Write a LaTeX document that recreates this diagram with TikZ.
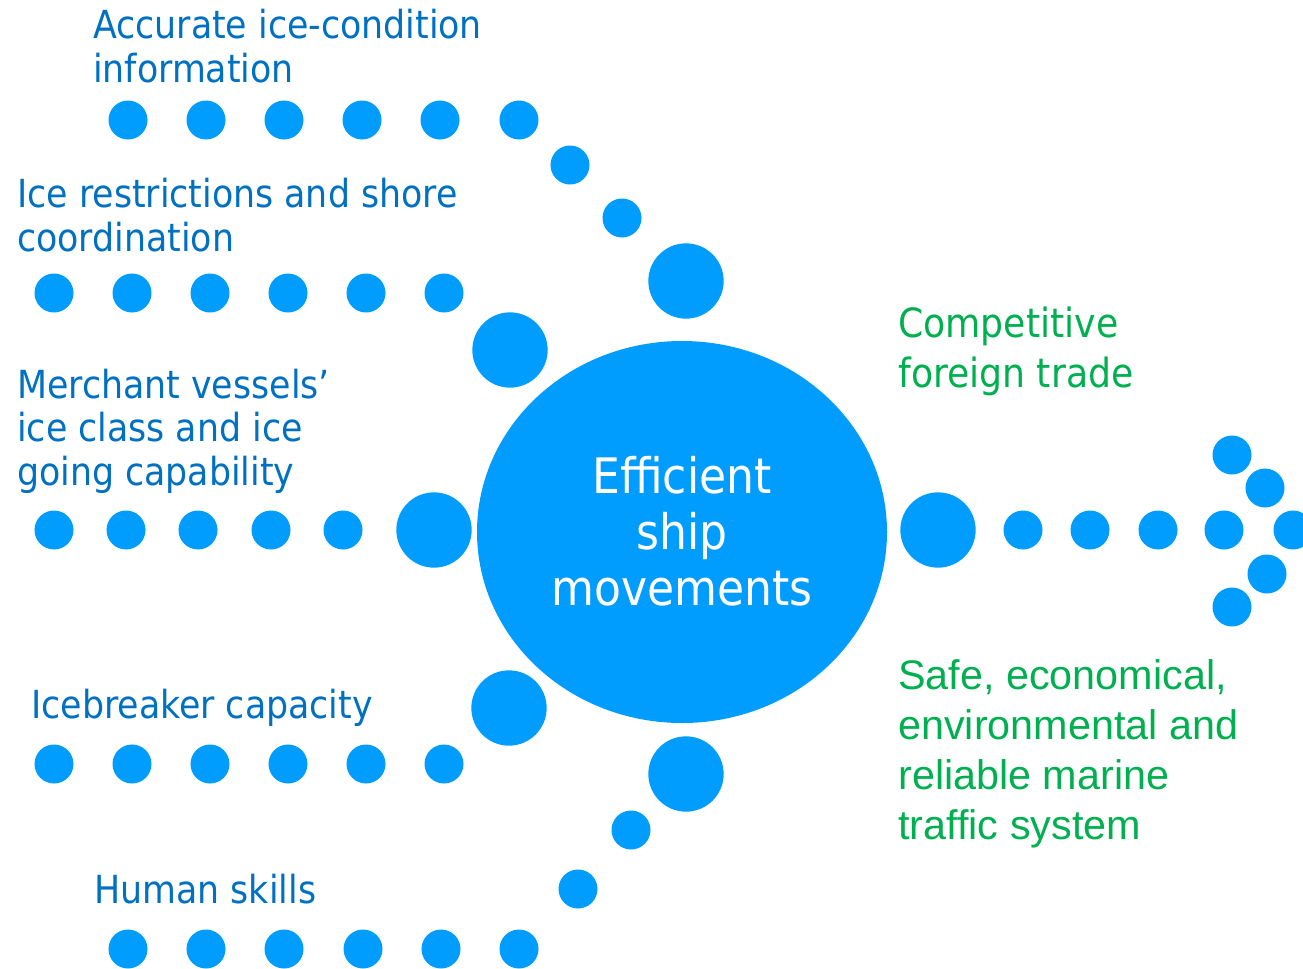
\documentclass[tikz,border=0pt]{standalone}
\usepackage{fontspec}
\usetikzlibrary{shapes.geometric}
\newfontfamily\tah{DejaVu Sans Condensed}
\newfontfamily\arl{Liberation Sans}
\definecolor{dotblue}{RGB}{0,157,255}
\definecolor{txtblue}{RGB}{0,112,192}
\definecolor{txtgreen}{RGB}{0,176,80}
\tikzset{
  dot/.style={circle,fill=dotblue,draw=none,inner sep=0pt,minimum size=29.25pt},
  bigdot/.style={circle,fill=dotblue,draw=none,inner sep=0pt,minimum size=56.5pt},
  lbl/.style={anchor=base west,align=left,inner sep=0pt,text=txtblue,font=\tah\fontsize{29pt}{32.6pt}\selectfont},
  glbl/.style={anchor=base west,align=left,inner sep=0pt,text=txtgreen},
}
\begin{document}
\begin{tikzpicture}[x=0.75pt,y=-0.75pt]
\useasboundingbox (0,0) rectangle (1303,968);
% central blob
\node[ellipse,fill=dotblue,draw=none,inner sep=0pt,minimum width=307.5pt,minimum height=286.5pt] (hub) at (682,532) {};
\node[anchor=base,align=center,inner sep=0pt,text=white,font=\tah\fontsize{36.7pt}{42pt}\selectfont] (hubtxt) at (682,605) {Efficient\\ship\\movements};
% row 1
\foreach \x [count=\i] in {128,206,284,362,440,519} \node[dot] (a\i) at (\x,120) {};
\node[dot] (a7) at (570,165) {};
\node[dot] (a8) at (622,218) {};
\node[bigdot] (a9) at (686,281) {};
% row 2
\foreach \x [count=\i] in {54,132,210,288,366,444} \node[dot] (b\i) at (\x,293) {};
\node[bigdot] (b7) at (510,350) {};
% row 3
\foreach \x [count=\i] in {54,126,198,271,343} \node[dot] (c\i) at (\x,530) {};
\node[bigdot] (c6) at (434,530) {};
% row 4
\foreach \x [count=\i] in {54,132,210,288,366,444} \node[dot] (d\i) at (\x,764) {};
\node[bigdot] (d7) at (509,708) {};
% row 5
\foreach \x [count=\i] in {128,206,284,363,441,519} \node[dot] (e\i) at (\x,949) {};
\node[dot] (e7) at (578,889) {};
\node[dot] (e8) at (631,830) {};
\node[bigdot] (e9) at (686,774) {};
% right arrow
\node[bigdot] (r0) at (938,530) {};
\foreach \x [count=\i] in {1023,1090,1158,1224,1293} \node[dot] (r\i) at (\x,530) {};
\node[dot] (u1) at (1232,455) {};
\node[dot] (u2) at (1265,488) {};
\node[dot] (l1) at (1267,574) {};
\node[dot] (l2) at (1232,607) {};
% labels (anchored at the baseline of the last line)
\node[lbl] (t1) at (93,82) {Accurate ice-condition\\information};
\node[lbl] (t2) at (17,251) {Ice restrictions and shore\\coordination};
\node[lbl] (t3) at (17,485) {Merchant vessels’\\ice class and ice\\going capability};
\node[lbl] (t4) at (31,718) {Icebreaker capacity};
\node[lbl] (t5) at (94,903) {Human skills};
\node[glbl,font=\tah\fontsize{30.2pt}{37.5pt}\selectfont] (g1) at (898,387) {Competitive\\foreign trade};
\node[glbl,font=\arl\fontsize{31pt}{37.5pt}\selectfont] (g2) at (898,839) {Safe, economical,\\environmental and\\reliable marine\\traffic system};
\end{tikzpicture}
\end{document}
